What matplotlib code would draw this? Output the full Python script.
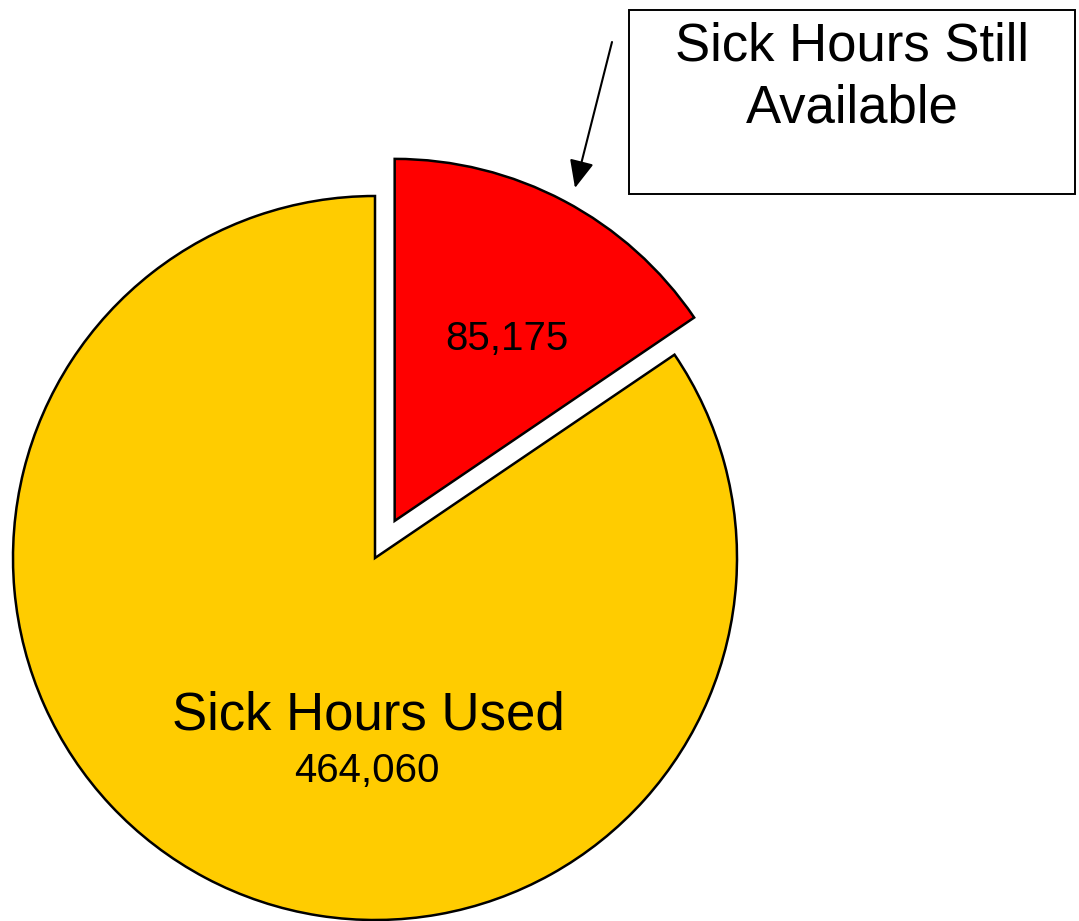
import matplotlib
matplotlib.use("Agg")
import matplotlib.pyplot as plt
from matplotlib.patches import Rectangle

labels = ["Sick Hours Still Available", "Sick Hours Used"]
values = [85175, 464060]
colors = ["#FF0000", "#FFCC00"]

plt.rcParams['font.family'] = ['Liberation Sans', 'DejaVu Sans']

W, H = 1079, 921
fig = plt.figure(figsize=(W / 100, H / 100), dpi=100)
ax = fig.add_axes([0, 0, 1, 1])

cx, cy, r = 375, H - 558, 362
explode = [42, 0]  # offset of the red slice, in pixel units of this axes
ax.pie(values, colors=colors, explode=explode, startangle=90, counterclock=False,
       center=(cx, cy), radius=r, frame=True,
       wedgeprops=dict(edgecolor='black', linewidth=1.8))
ax.set_xlim(0, W)
ax.set_ylim(0, H)
ax.set_aspect('equal')
ax.axis('off')

ax.text(507, H - 339, f"{values[0]:,}", fontsize=29, ha='center', va='center')
ax.text(368, H - 715, "Sick Hours Used", fontsize=38, ha='center', va='center')
ax.text(367, H - 771, f"{values[1]:,}", fontsize=29, ha='center', va='center')

ax.add_patch(Rectangle((629, H - 194), 446, 184, facecolor='white',
                       edgecolor='black', linewidth=1.4))
ax.text(852, H - 47, "Sick Hours Still", fontsize=38, ha='center', va='center')
ax.text(852, H - 109, "Available", fontsize=38, ha='center', va='center')

ax.annotate("", xy=(575, H - 188), xytext=(612, H - 42),
            arrowprops=dict(arrowstyle='-|>,head_length=1.7,head_width=0.75',
                            color='black', lw=1.5, shrinkA=0, shrinkB=0))

fig.savefig("out.png", dpi=100)
